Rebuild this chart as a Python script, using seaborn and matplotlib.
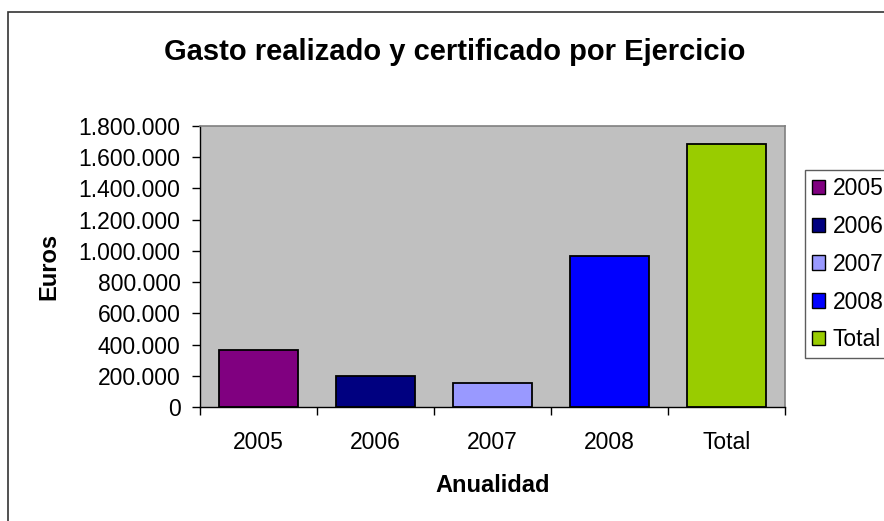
import matplotlib
matplotlib.use('Agg')
import matplotlib.pyplot as plt
import matplotlib.patches as mpatches
from matplotlib.ticker import FuncFormatter, FixedLocator
import pandas as pd
import seaborn as sns

categorias = ['2005', '2006', '2007', '2008', 'Total']
gasto = [365000, 200000, 156000, 969000, 1683000]
colores = ['#800080', '#000080', '#9999FF', '#0000FF', '#99CC00']
yticks = [0, 200000, 400000, 600000, 800000, 1000000, 1200000, 1400000, 1600000, 1800000]

df = pd.DataFrame({'Anualidad': categorias, 'Euros': gasto})

sns.set_style('white')
plt.rcParams['font.family'] = ['Liberation Sans', 'DejaVu Sans']
plt.rcParams['text.color'] = 'black'
plt.rcParams['axes.labelcolor'] = 'black'
plt.rcParams['xtick.color'] = 'black'
plt.rcParams['ytick.color'] = 'black'

fig = plt.figure(figsize=(8.84, 5.21), dpi=100)
ax = fig.add_axes([200 / 884, 114 / 521, 585 / 884, 281 / 521])
ax.set_facecolor('#C0C0C0')

sns.barplot(data=df, x='Anualidad', y='Euros', hue='Anualidad', palette=colores,
            dodge=False, legend=False, width=0.67, edgecolor='black', linewidth=1.3,
            saturation=1, ax=ax)

ax.set_xlim(-0.5, 4.5)
ax.set_ylim(0, 1800000)
ax.yaxis.set_major_locator(FixedLocator(yticks))
ax.yaxis.set_major_formatter(FuncFormatter(lambda v, p: f'{int(v):,}'.replace(',', '.')))
ax.set_xticks(range(5))
ax.set_xticklabels(categorias)
ax.set_xticks([i - 0.5 for i in range(6)], minor=True)
ax.tick_params(axis='x', which='major', length=0, labelsize=16.5, pad=17)
ax.tick_params(axis='x', which='minor', length=6, width=1, direction='out')
ax.tick_params(axis='y', length=6, width=1, direction='out', labelsize=16.5, pad=8)
ax.yaxis.set_ticks_position('left')
ax.xaxis.set_ticks_position('bottom')

for s in ['top', 'right']:
    ax.spines[s].set_color('#808080')
    ax.spines[s].set_linewidth(1.2)
for s in ['left', 'bottom']:
    ax.spines[s].set_color('black')
    ax.spines[s].set_linewidth(1)

ax.set_xlabel('Anualidad', fontsize=17, fontweight='bold', labelpad=15)
ax.set_ylabel('Euros', fontsize=17, fontweight='bold', labelpad=13)

fig.text(455 / 884, 1 - 52 / 521, 'Gasto realizado y certificado por Ejercicio',
         ha='center', va='center', fontsize=21, fontweight='bold')

handles = [mpatches.Patch(facecolor=c, edgecolor='black', linewidth=1, label=l)
           for c, l in zip(colores, categorias)]
leg = fig.legend(handles=handles, loc='upper left', bbox_to_anchor=(805 / 884, 1 - 170 / 521),
                 frameon=True, fontsize=16.5, handlelength=0.58, handleheight=0.58,
                 handletextpad=0.32, labelspacing=0.65, borderpad=0.3, fancybox=False,
                 borderaxespad=0)
leg.get_frame().set_edgecolor('#333333')
leg.get_frame().set_linewidth(1)

border = mpatches.Rectangle((8 / 884, -0.1), 1.0, 1 - 12 / 521 + 0.1, transform=fig.transFigure,
                            fill=False, edgecolor='#333333', linewidth=1.2)
fig.patches.append(border)

fig.savefig('out.png', dpi=100)
